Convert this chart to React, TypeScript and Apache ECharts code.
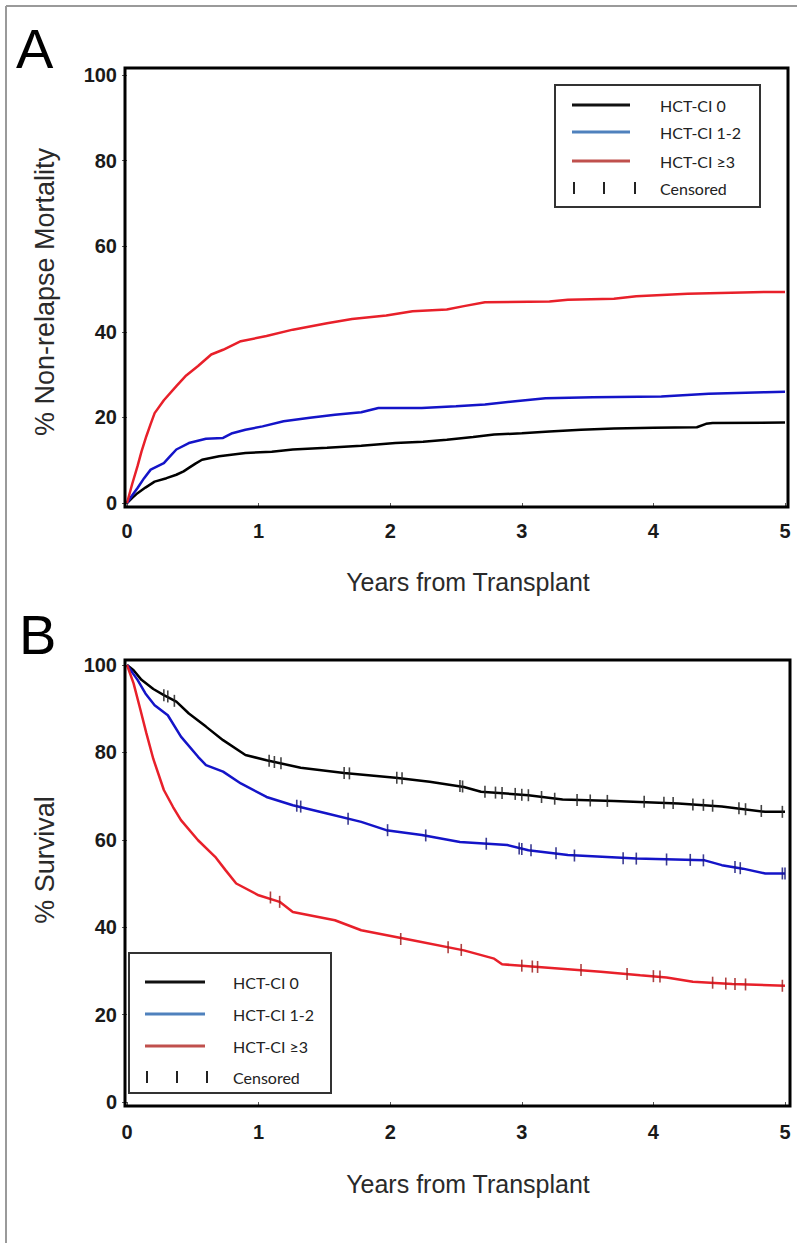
import React, { useEffect, useRef } from "react";
import * as echarts from "echarts";

// ---- Panel A: cumulative non-relapse mortality (%) vs years ----
const nrmHct0: [number, number][] = [
  [0, 0], [0.04, 1.2], [0.08, 2.3], [0.14, 3.6], [0.21, 5], [0.3, 5.8], [0.375, 6.6], [0.43, 7.4],
  [0.47, 8.2], [0.52, 9.2], [0.57, 10.1], [0.7, 10.9], [0.9, 11.7], [1.1, 12], [1.26, 12.5],
  [1.52, 12.9], [1.78, 13.4], [2.04, 14], [2.25, 14.3], [2.43, 14.8], [2.63, 15.4], [2.79, 16],
  [3.0, 16.3], [3.21, 16.7], [3.45, 17.1], [3.7, 17.4], [4.0, 17.6], [4.33, 17.7], [4.4, 18.5],
  [4.45, 18.7], [5, 18.8],
];
const nrmHct12: [number, number][] = [
  [0, 0], [0.04, 1.8], [0.08, 3.5], [0.13, 5.8], [0.18, 7.8], [0.28, 9.3], [0.33, 11], [0.375, 12.5],
  [0.47, 14], [0.6, 15], [0.73, 15.2], [0.8, 16.3], [0.9, 17.1], [1.03, 17.9], [1.19, 19.1],
  [1.39, 19.9], [1.58, 20.6], [1.78, 21.2], [1.91, 22.2], [2.24, 22.2], [2.5, 22.6], [2.72, 23],
  [2.95, 23.8], [3.18, 24.5], [3.54, 24.7], [4.06, 24.9], [4.42, 25.5], [4.85, 25.9], [5, 26],
];
const nrmHct3: [number, number][] = [
  [0, 0], [0.04, 4.5], [0.08, 8.6], [0.11, 12], [0.147, 15.6], [0.18, 18.5], [0.21, 21], [0.28, 24],
  [0.375, 27.3], [0.45, 29.8], [0.54, 32], [0.64, 34.7], [0.73, 35.8], [0.865, 37.8], [1.06, 39],
  [1.26, 40.5], [1.52, 42], [1.71, 43], [1.97, 43.8], [2.17, 44.8], [2.43, 45.2], [2.56, 46],
  [2.72, 46.9], [3.21, 47.1], [3.35, 47.5], [3.7, 47.7], [3.87, 48.3], [4.26, 48.9], [4.85, 49.3], [5, 49.3],
];

// ---- Panel B: overall survival (%) vs years ----
const osHct0: [number, number][] = [
  [0, 100], [0.05, 98.8], [0.11, 96.6], [0.2, 94.5], [0.28, 93.1], [0.375, 91.6], [0.47, 88.9],
  [0.6, 85.9], [0.73, 82.8], [0.9, 79.4], [1.06, 78.2], [1.32, 76.5], [1.65, 75.3], [2.04, 74.2],
  [2.3, 73.3], [2.56, 72.1], [2.69, 71], [3.05, 70.2], [3.31, 69.2], [3.7, 68.9], [4.19, 68.3],
  [4.52, 67.6], [4.85, 66.4], [5, 66.4],
];
const osHct12: [number, number][] = [
  [0, 100], [0.08, 96.6], [0.14, 93.5], [0.21, 90.8], [0.31, 88.5], [0.41, 83.6], [0.54, 79],
  [0.6, 77.1], [0.73, 75.6], [0.865, 72.9], [1.06, 69.8], [1.26, 67.9], [1.52, 66], [1.78, 64.1],
  [1.97, 62.2], [2.24, 61.1], [2.53, 59.5], [2.89, 58.8], [3.05, 57.6], [3.35, 56.5], [3.87, 55.7],
  [4.39, 55.3], [4.52, 54.2], [4.68, 53.4], [4.85, 52.3], [5, 52.3],
];
const osHct3: [number, number][] = [
  [0, 100], [0.05, 95.8], [0.1, 90], [0.147, 84.4], [0.2, 78.5], [0.28, 71.4], [0.35, 67.5],
  [0.41, 64.5], [0.54, 59.9], [0.67, 56.1], [0.75, 53], [0.83, 50], [1.0, 47.3], [1.16, 45.8],
  [1.26, 43.5], [1.58, 41.6], [1.78, 39.3], [2.17, 37], [2.56, 34.7], [2.79, 32.8], [2.85, 31.5],
  [3.0, 31.2], [3.3, 30.5], [3.6, 29.8], [3.9, 29], [4.1, 28.5], [4.3, 27.5], [4.6, 27], [5, 26.6],
];

// censored observations (panel B)
const censHct0: [number, number][] = [
  [0.28, 93.1], [0.31, 92.8], [0.36, 91.8], [1.08, 78.1], [1.12, 77.8], [1.17, 77.5], [1.65, 75.3],
  [1.69, 75.2], [2.05, 74.2], [2.09, 74.1], [2.53, 72.3], [2.55, 72.2], [2.72, 71], [2.8, 70.8],
  [2.85, 70.7], [2.95, 70.5], [3.0, 70.3], [3.05, 70.2], [3.15, 69.8], [3.25, 69.4], [3.42, 69.1],
  [3.52, 69], [3.65, 68.9], [3.93, 68.7], [4.08, 68.5], [4.15, 68.4], [4.3, 68.1], [4.38, 68],
  [4.45, 67.8], [4.65, 67.2], [4.7, 67], [4.82, 66.6], [4.98, 66.4],
];
const censHct12: [number, number][] = [
  [1.29, 67.8], [1.32, 67.6], [1.68, 64.8], [1.98, 62.2], [2.27, 61], [2.73, 59.1], [2.98, 58],
  [3.0, 57.9], [3.07, 57.6], [3.26, 56.9], [3.4, 56.4], [3.77, 55.8], [3.87, 55.7], [4.1, 55.5],
  [4.28, 55.4], [4.38, 55.3], [4.62, 53.8], [4.66, 53.5], [4.98, 52.3], [5.0, 52.3],
];
const censHct3: [number, number][] = [
  [1.09, 46.8], [1.16, 45.8], [2.08, 37.3], [2.44, 35.4], [2.54, 34.8], [3.0, 31.2], [3.08, 31],
  [3.12, 30.9], [3.45, 30.2], [3.8, 29.3], [4.0, 28.8], [4.05, 28.7], [4.45, 27.3], [4.55, 27.1],
  [4.62, 27], [4.7, 26.9], [4.98, 26.6],
];

const legendLabels = ["HCT-CI 0", "HCT-CI 1-2", "HCT-CI \u22653", "Censored"];
const xTitle = "Years from Transplant";
const yTitleA = "% Non-relapse Mortality";
const yTitleB = "% Survival";

const C_BLACK = "#000000";
const C_BLUE = "#1414c8";
const C_RED = "#e8202a";
const L_COLORS = ["#111111", "#4f81bd", "#c0504d"];

const SANS = "'Liberation Sans', Arial, Helvetica, sans-serif";
const LEG_FONT = "Lato, 'Open Sans', sans-serif";

function legendGroup(x0: number, y0: number, w: number, h: number, rows: number[], lx1: number, lx2: number, tx: number, bars: number[]) {
  const children: any[] = [
    { type: "rect", shape: { x: x0, y: y0, width: w, height: h }, style: { fill: "#fff", stroke: "#333", lineWidth: 2 } },
  ];
  for (let i = 0; i < 3; i++) {
    children.push({ type: "line", shape: { x1: lx1, y1: rows[i], x2: lx2, y2: rows[i] }, style: { stroke: L_COLORS[i], lineWidth: 3 } });
  }
  for (let i = 0; i < 4; i++) {
    children.push({
      type: "text",
      style: { x: tx, y: rows[i], text: legendLabels[i], fontFamily: LEG_FONT, fontSize: 16, fill: "#222", textVerticalAlign: "middle", textAlign: "left" },
    });
  }
  bars.forEach((bx) => {
    children.push({ type: "line", shape: { x1: bx, y1: rows[3] - 6, x2: bx, y2: rows[3] + 6 }, style: { stroke: "#222", lineWidth: 2 } });
  });
  return { type: "group", z: 20, children };
}

export default function App() {
  const ref = useRef<HTMLDivElement>(null);
  useEffect(() => {
    document.body.style.margin = "0";
    if (!ref.current) return;
    const chart = echarts.init(ref.current, undefined, { renderer: "svg" });

    const xAxisBase = (gi: number, margin: number) => ({
      type: "value" as const,
      gridIndex: gi,
      min: 0,
      max: 5,
      interval: 1,
      axisLine: { show: false },
      splitLine: { show: false },
      axisTick: { show: true, length: 5, lineStyle: { color: "#555", width: 1 } },
      axisLabel: { fontSize: 20, fontWeight: "bold" as const, color: "#1a1a1a", margin, fontFamily: SANS },
    });
    const yAxisBase = (gi: number) => ({
      type: "value" as const,
      gridIndex: gi,
      min: 0,
      max: 100,
      interval: 20,
      axisLine: { show: false },
      splitLine: { show: false },
      axisTick: { show: true, length: 5, lineStyle: { color: "#555", width: 1 } },
      axisLabel: { fontSize: 20, fontWeight: "bold" as const, color: "#1a1a1a", margin: 10, fontFamily: SANS },
    });

    const lineS = (data: [number, number][], color: string, gi: number) => ({
      type: "line" as const,
      data,
      xAxisIndex: gi,
      yAxisIndex: gi,
      showSymbol: false,
      symbol: "none",
      lineStyle: { color, width: 2.5 },
      z: 5,
    });
    const censS = (data: [number, number][], color: string) => ({
      type: "scatter" as const,
      data,
      xAxisIndex: 1,
      yAxisIndex: 1,
      symbol: "rect",
      symbolSize: [1.6, 12],
      itemStyle: { color, opacity: 0.85 },
      z: 6,
    });

    chart.setOption({
      animation: false,
      textStyle: { fontFamily: SANS },
      grid: [
        { left: 127, top: 75, width: 658, height: 428 },
        { left: 127, top: 665, width: 658, height: 437 },
      ],
      xAxis: [xAxisBase(0, 18), xAxisBase(1, 20)],
      yAxis: [yAxisBase(0), yAxisBase(1)],
      series: [
        lineS(nrmHct0, C_BLACK, 0),
        lineS(nrmHct12, C_BLUE, 0),
        lineS(nrmHct3, C_RED, 0),
        lineS(osHct0, C_BLACK, 1),
        lineS(osHct12, C_BLUE, 1),
        lineS(osHct3, C_RED, 1),
        censS(censHct0, "#222"),
        censS(censHct12, "#1a1a80"),
        censS(censHct3, "#a02020"),
      ],
      graphic: [
        // outer border (top and left)
        { type: "line", shape: { x1: 6, y1: 6, x2: 797, y2: 6 }, style: { stroke: "#9a9a9a", lineWidth: 2 } },
        { type: "line", shape: { x1: 6, y1: 6, x2: 6, y2: 1243 }, style: { stroke: "#9a9a9a", lineWidth: 2 } },
        // panel letters
        { type: "text", style: { x: 16, y: 20, text: "A", fontFamily: SANS, fontSize: 56, fill: "#000" } },
        { type: "text", style: { x: 19, y: 606, text: "B", fontFamily: SANS, fontSize: 56, fill: "#000" } },
        // frames
        { type: "rect", z: 10, shape: { x: 125, y: 68, width: 663, height: 439 }, style: { fill: "none", stroke: "#000", lineWidth: 3 } },
        { type: "rect", z: 10, shape: { x: 125, y: 660, width: 665, height: 446 }, style: { fill: "none", stroke: "#000", lineWidth: 3 } },
        // axis titles
        { type: "text", style: { x: 468, y: 582, text: xTitle, fontFamily: SANS, fontSize: 25, fill: "#2a2a2a", textAlign: "center", textVerticalAlign: "middle" } },
        { type: "text", style: { x: 468, y: 1184, text: xTitle, fontFamily: SANS, fontSize: 25, fill: "#2a2a2a", textAlign: "center", textVerticalAlign: "middle" } },
        { type: "text", x: 45, y: 292, rotation: Math.PI / 2, style: { x: 0, y: 0, text: yTitleA, fontFamily: SANS, fontSize: 27, fill: "#2a2a2a", textAlign: "center", textVerticalAlign: "middle" } },
        { type: "text", x: 45, y: 860, rotation: Math.PI / 2, style: { x: 0, y: 0, text: yTitleB, fontFamily: SANS, fontSize: 27, fill: "#2a2a2a", textAlign: "center", textVerticalAlign: "middle" } },
        // legends
        legendGroup(555, 85, 205, 122, [105, 132, 161, 188], 572, 630, 660, [574, 604, 635]),
        legendGroup(129, 953, 202, 140, [982, 1014, 1046, 1077], 145, 205, 233, [147, 177, 207]),
      ],
    });
    return () => chart.dispose();
  }, []);
  return <div ref={ref} style={{ width: 797, height: 1243 }} />;
}
